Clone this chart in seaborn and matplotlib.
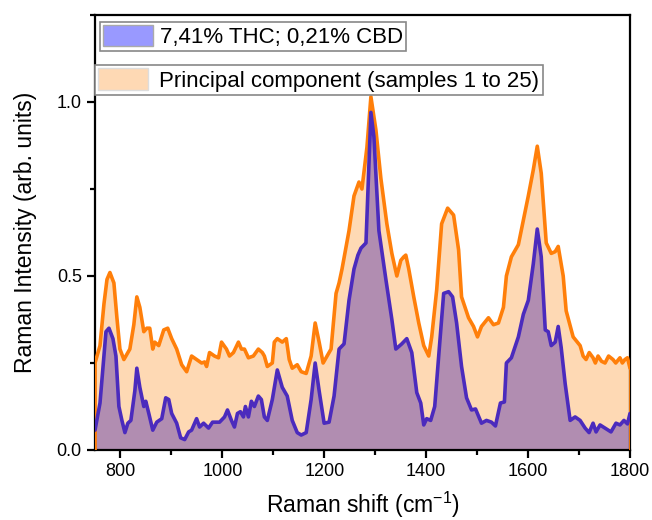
import numpy as np
import pandas as pd
import matplotlib
matplotlib.use("Agg")
import matplotlib.pyplot as plt
from matplotlib.patches import Patch
from matplotlib.ticker import MultipleLocator
import seaborn as sns

# Principal component (samples 1 to 25)
pc_shift = [750, 759.8, 767.6, 773.5, 779.3, 787.1, 793, 798.9, 806.7, 818.4, 826.2, 832.1,
            838, 845.8, 851.7, 857.5, 863.4, 867.3, 875.1, 884.9, 892.7, 900.5, 910.3, 920.1,
            929.9, 939.6, 949.4, 959.2, 965.1, 969, 974.8, 984.6, 992.4, 998.3, 1008, 1014,
            1021.7, 1031.5, 1037.4, 1043.3, 1051.1, 1060.8, 1070.6, 1078.4, 1082.4, 1088.2,
            1098, 1101.9, 1107.8, 1117.5, 1125.4, 1131.2, 1137.1, 1146.9, 1154.7, 1164.5,
            1174.2, 1182.1, 1189.9, 1197.7, 1205.5, 1213.3, 1223.1, 1229, 1234.8, 1248.5,
            1258.3, 1268.1, 1273.9, 1283.7, 1291.5, 1301.3, 1311.1, 1322.8, 1332.6, 1342.4,
            1350.2, 1356, 1360, 1365.8, 1375.6, 1385.4, 1395.2, 1405, 1410.8, 1420.6, 1430.3,
            1442.1, 1453.8, 1463.6, 1469.4, 1483.1, 1492.9, 1500.7, 1508.5, 1522.2, 1532,
            1541.8, 1551.6, 1557.4, 1567.2, 1580.9, 1590.7, 1600.4, 1610.2, 1618, 1625.8,
            1635.6, 1645.4, 1653.2, 1659.1, 1668.9, 1674.7, 1688.4, 1702.1, 1708, 1713.8,
            1720, 1727.5, 1732, 1737.3, 1744, 1751, 1758, 1766.6, 1772, 1780.3, 1785, 1790.1,
            1795, 1800]
pc_int = [0.25, 0.30, 0.42, 0.49, 0.51, 0.48, 0.38, 0.29, 0.26, 0.29, 0.36, 0.44,
          0.41, 0.34, 0.35, 0.35, 0.29, 0.31, 0.30, 0.345, 0.35, 0.32, 0.29, 0.245,
          0.225, 0.27, 0.26, 0.25, 0.253, 0.24, 0.28, 0.27, 0.265, 0.31, 0.29, 0.27,
          0.28, 0.31, 0.29, 0.29, 0.265, 0.27, 0.29, 0.28, 0.27, 0.24,
          0.25, 0.31, 0.32, 0.31, 0.32, 0.26, 0.235, 0.245, 0.225, 0.22,
          0.27, 0.365, 0.31, 0.25, 0.27, 0.29, 0.45, 0.48, 0.52, 0.63,
          0.73, 0.77, 0.75, 0.87, 1.015, 0.92, 0.78, 0.65, 0.565, 0.50,
          0.545, 0.555, 0.56, 0.52, 0.44, 0.365, 0.30, 0.27, 0.325, 0.46, 0.65,
          0.695, 0.675, 0.575, 0.44, 0.38, 0.355, 0.325, 0.355, 0.38, 0.36,
          0.365, 0.41, 0.50, 0.555, 0.59, 0.66, 0.73, 0.805, 0.873, 0.795,
          0.595, 0.565, 0.57, 0.585, 0.50, 0.40, 0.325, 0.30, 0.27, 0.26,
          0.28, 0.265, 0.25, 0.27, 0.255, 0.25, 0.27, 0.26, 0.25, 0.265, 0.25, 0.26,
          0.265, 0.235]

# 7,41% THC; 0,21% CBD
thc_shift = [750, 759.8, 767.6, 771.5, 777.4, 785.2, 791.1, 796.9, 802.8, 808.7, 814.5, 820.4,
             828.2, 832.1, 838, 845.8, 849.7, 855.6, 863.4, 871.2, 881, 888.8, 894.7, 900.5,
             910.3, 918.1, 926, 933.8, 939.6, 949.4, 955.3, 963.1, 972.9, 980.7, 994.4,
             1004.2, 1010, 1017.8, 1023.7, 1029.6, 1035.4, 1041.3, 1045.2, 1051.1, 1056.9,
             1062.8, 1070.6, 1076.5, 1082.4, 1088.2, 1098, 1107.8, 1117.5, 1127.3, 1137.1,
             1146.9, 1154.7, 1164.5, 1174.2, 1182.1, 1189.9, 1199.7, 1209.4, 1219.2, 1229,
             1238.8, 1248.5, 1258.3, 1266, 1272, 1281.8, 1291.5, 1297.4, 1307.2, 1320.9,
             1332.6, 1340.4, 1352.1, 1361.9, 1371.7, 1381.5, 1389.3, 1395.2, 1401, 1408.8,
             1416.7, 1424.5, 1434.3, 1444, 1451.8, 1459.7, 1469.4, 1479.2, 1489, 1496.8,
             1508.5, 1518.3, 1528.1, 1535.9, 1545.7, 1553.5, 1557.4, 1567.2, 1580.9, 1590.7,
             1600.4, 1610.2, 1618, 1625.8, 1633.7, 1639.5, 1645.4, 1653.2, 1659.1, 1664.9,
             1672.8, 1682.5, 1692.3, 1702.1, 1711.9, 1719.7, 1727.5, 1733.4, 1741.2, 1751,
             1762.7, 1772.5, 1780.3, 1788.1, 1795, 1800]
thc_int = [0.057, 0.135, 0.27, 0.34, 0.35, 0.32, 0.27, 0.125, 0.085, 0.05, 0.077, 0.085,
           0.17, 0.235, 0.18, 0.125, 0.14, 0.105, 0.057, 0.08, 0.09, 0.15, 0.145, 0.105,
           0.077, 0.035, 0.03, 0.052, 0.057, 0.09, 0.066, 0.077, 0.063, 0.08, 0.08,
           0.095, 0.115, 0.085, 0.066, 0.105, 0.11, 0.095, 0.125, 0.095, 0.14,
           0.125, 0.155, 0.145, 0.095, 0.085, 0.145, 0.23, 0.18, 0.155, 0.085,
           0.05, 0.043, 0.05, 0.145, 0.25, 0.17, 0.077, 0.08, 0.155, 0.29,
           0.305, 0.43, 0.52, 0.56, 0.58, 0.595, 0.97, 0.90, 0.63, 0.49,
           0.375, 0.29, 0.305, 0.32, 0.28, 0.165, 0.135, 0.072, 0.09, 0.085,
           0.125, 0.27, 0.45, 0.455, 0.44, 0.365, 0.24, 0.15, 0.115, 0.118,
           0.077, 0.085, 0.08, 0.069, 0.135, 0.138, 0.25, 0.265, 0.325, 0.39,
           0.43, 0.535, 0.635, 0.555, 0.345, 0.34, 0.30, 0.31, 0.355, 0.295,
           0.19, 0.085, 0.095, 0.085, 0.063, 0.05, 0.077, 0.052, 0.072, 0.063,
           0.052, 0.077, 0.072, 0.085, 0.075, 0.105]

labels = ["7,41% THC; 0,21% CBD", "Principal component (samples 1 to 25)"]

pc = pd.DataFrame({"shift": pc_shift, "intensity": pc_int})
thc = pd.DataFrame({"shift": thc_shift, "intensity": thc_int})

sns.set_theme(style="ticks")
plt.rcParams["font.family"] = ["Liberation Sans", "DejaVu Sans"]
plt.rcParams["mathtext.fontset"] = "custom"
plt.rcParams["mathtext.rm"] = "Liberation Sans"
plt.rcParams["text.color"] = "black"
plt.rcParams["axes.labelcolor"] = "black"

fig = plt.figure(figsize=(6.52, 5.2), dpi=100)
ax = fig.add_axes([95 / 652, 70 / 520, 535 / 652, 435 / 520])

orange_line = "#ff7f0a"
orange_fill = "#fed9b4"
purple_line = "#4b2bbd"
purple_fill = "#b18db1"
blue_patch = "#9999ff"

ax.fill_between(pc["shift"], 0, pc["intensity"], color=orange_fill, lw=0, zorder=1)
ax.fill_between(thc["shift"], 0, thc["intensity"], color=purple_fill, lw=0, zorder=2)
sns.lineplot(data=pc, x="shift", y="intensity", ax=ax, color=orange_line, lw=2.6, zorder=3)
sns.lineplot(data=thc, x="shift", y="intensity", ax=ax, color=purple_line, lw=2.6, zorder=4)
ax.vlines([pc_shift[0], pc_shift[-1]], 0, [pc_int[0], pc_int[-1]], color=orange_line, lw=2, zorder=3)

ax.set_xlim(750, 1800)
ax.set_ylim(0, 1.25)
ax.xaxis.set_major_locator(MultipleLocator(200))
ax.xaxis.set_minor_locator(MultipleLocator(100))
ax.yaxis.set_major_locator(MultipleLocator(0.5))
ax.yaxis.set_minor_locator(MultipleLocator(0.25))
ax.yaxis.set_major_formatter(matplotlib.ticker.FormatStrFormatter("%.1f"))

for s in ax.spines.values():
    s.set_visible(True)
    s.set_linewidth(1.6)
    s.set_color("black")
ax.tick_params(which="major", direction="out", length=6, width=1.6, labelsize=13,
               colors="black", labelcolor="black")
ax.tick_params(which="minor", direction="out", length=3.5, width=1.6, colors="black")
ax.tick_params(axis="both", which="both", top=False, right=False)

ax.set_xlabel("Raman shift (cm$^{-1}$)", fontsize=16.5, labelpad=7, color="black")
ax.set_ylabel("Raman Intensity (arb. units)", fontsize=16.5, labelpad=14, color="black")

leg1 = ax.legend(handles=[Patch(facecolor=blue_patch, edgecolor="#aaaaaa")], labels=[labels[0]],
                 loc="upper left", bbox_to_anchor=(0.009, 0.985), borderaxespad=0,
                 fontsize=16, frameon=True, fancybox=False, framealpha=1,
                 edgecolor="#888888", handlelength=2.25, handleheight=1.1,
                 handletextpad=0.3, borderpad=0.15, labelcolor="black")
leg1.get_frame().set_linewidth(1.2)
ax.add_artist(leg1)
leg2 = ax.legend(handles=[Patch(facecolor=orange_fill, edgecolor="#dddddd")], labels=[labels[1]],
                 loc="upper left", bbox_to_anchor=(0.0, 0.885), borderaxespad=0,
                 fontsize=16, frameon=True, fancybox=False, framealpha=1,
                 edgecolor="#888888", handlelength=2.25, handleheight=1.1,
                 handletextpad=0.5, borderpad=0.15, labelcolor="black")
leg2.get_frame().set_linewidth(1.2)

fig.savefig("out.png", dpi=100)
